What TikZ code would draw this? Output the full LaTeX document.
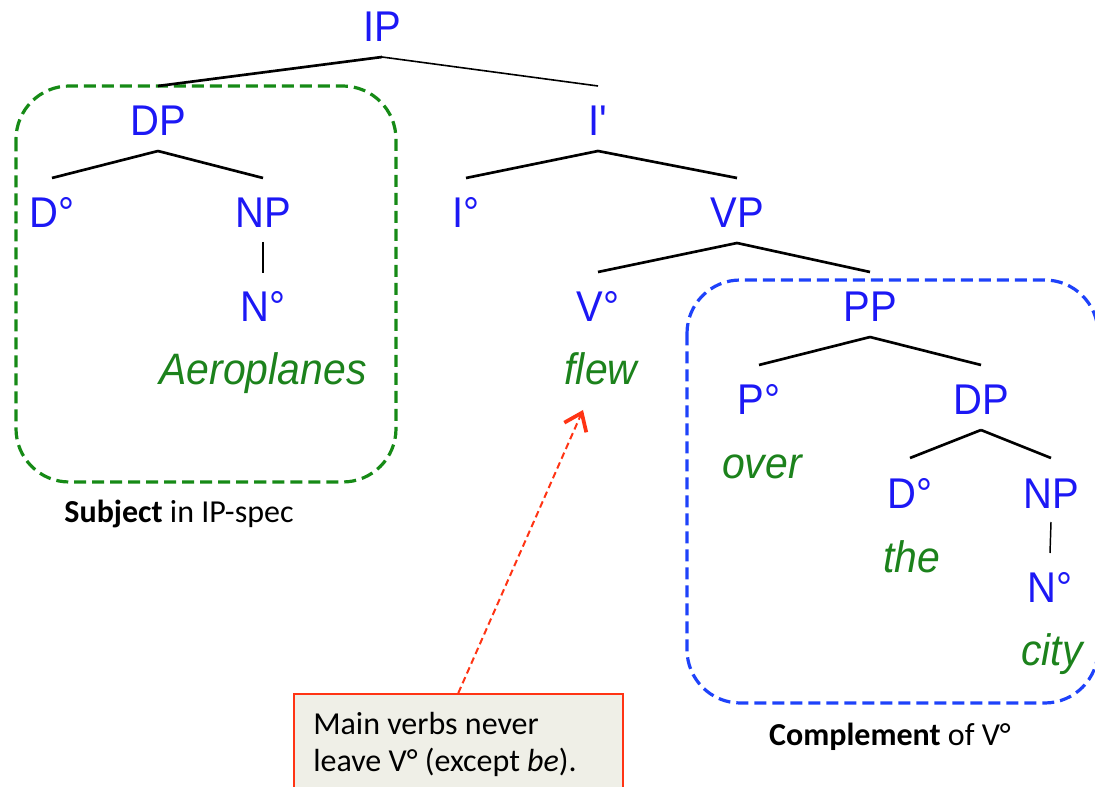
\documentclass[tikz,border=0pt]{standalone}
\usepackage{fontspec}
\usetikzlibrary{calc,arrows.meta}
\newfontfamily\treefont[FakeStretch=0.93]{Liberation Sans}
\newfontfamily\labfont{Carlito}
\definecolor{tblue}{RGB}{28,24,245}
\definecolor{tgreen}{RGB}{28,130,28}
\definecolor{bgreen}{RGB}{22,138,22}
\definecolor{bblue}{RGB}{30,66,250}
\definecolor{cred}{RGB}{255,52,20}
\definecolor{cfill}{RGB}{239,239,231}
\tikzset{
  cat/.style={font=\treefont\fontsize{32.25}{36}\selectfont, text=tblue, inner sep=0pt, anchor=base},
  word/.style={font=\treefont\itshape\fontsize{33}{36}\selectfont, text=tgreen, inner sep=0pt, anchor=base},
  branch/.style={line width=2pt, black},
  thinbranch/.style={line width=1.2pt, black},
  unary/.style={line width=1.1pt, black},
  groupbox/.style={line width=2.4pt, dash pattern=on 9pt off 4.5pt, rounded corners=40pt},
  lab/.style={font=\labfont\fontsize{24}{28}\selectfont, text=black, inner sep=0pt, anchor=base},
  calloutbox/.style={draw=cred, fill=cfill, line width=1.2pt, minimum width=246.75pt, minimum height=90pt, anchor=north west, inner sep=0pt},
  callouttxt/.style={font=\labfont\fontsize{24}{28}\selectfont, inner sep=0pt, anchor=base west},
  pointer/.style={cred, line width=1.5pt, dash pattern=on 5pt off 3pt, -{Straight Barb[length=12pt,width=18pt,line width=2.8pt]}}
}
\begin{document}
\begin{tikzpicture}[x=0.75pt,y=-0.75pt]
\useasboundingbox (0,0) rectangle (1095,787);
% grouping boxes
\draw[groupbox, bgreen] (16,86) rectangle (396,482);
\draw[groupbox, bblue] (687,280) rectangle (1098,703);
% tree nodes
\node[cat] (IP) at (382,42) {IP};
\node[cat] (DPs) at (158,136) {DP};
\node[cat] (Ibar) at (598,136) {I'};
\node[cat] (Ds) at (52,228) {D°};
\node[cat] (NPs) at (263,228) {NP};
\node[cat] (Izero) at (466,228) {I°};
\node[cat] (VP) at (737,228) {VP};
\node[cat] (Ns) at (263,322) {N°};
\node[cat] (V) at (598,322) {V°};
\node[cat] (PP) at (870,322) {PP};
\node[word] (aero) at (263,385) {Aeroplanes};
\node[word] (flew) at (601,385) {flew};
\node[cat] (P) at (759,415) {P°};
\node[cat] (DPc) at (981,415) {DP};
\node[word] (over) at (762,478) {over};
\node[cat] (Dc) at (910,508) {D°};
\node[cat] (NPc) at (1051,508) {NP};
\node[word] (the) at (912,572) {the};
\node[cat] (Nc) at (1050,602) {N°};
\node[word] (city) at (1052,665) {city};
% branches
\draw[thinbranch] ($(IP.base)+(0,15)$) -- ($(Ibar.base)+(0,-50)$);
\foreach \p/\c in {IP/DPs, DPs/Ds, DPs/NPs, Ibar/Izero, Ibar/VP, VP/V, VP/PP, PP/P, PP/DPc, DPc/Dc, DPc/NPc}
  \draw[branch] ($(\p.base)+(0,15)$) -- ($(\c.base)+(0,-50)$);
\draw[unary] ($(NPs.base)+(0,14)$) -- ($(Ns.base)+(0,-49)$);
\draw[unary] ($(NPc.base)+(0,14)$) -- ($(Nc.base)+(0,-49)$);
% labels
\node[lab] (subj) at (179,522) {\textbf{Subject} in IP-spec};
\node[lab] (compl) at (890,745) {\textbf{Complement} of V°};
% callout
\node[calloutbox] (callout) at (293,693) {};
\node[callouttxt] (ctext1) at (313,734) {Main verbs never};
\node[callouttxt] (ctext2) at (313,771) {leave V° (except \textit{be}).};
\coordinate (tip) at (583,410);
\draw[pointer] (callout.north) -- (tip);
\end{tikzpicture}
\end{document}
